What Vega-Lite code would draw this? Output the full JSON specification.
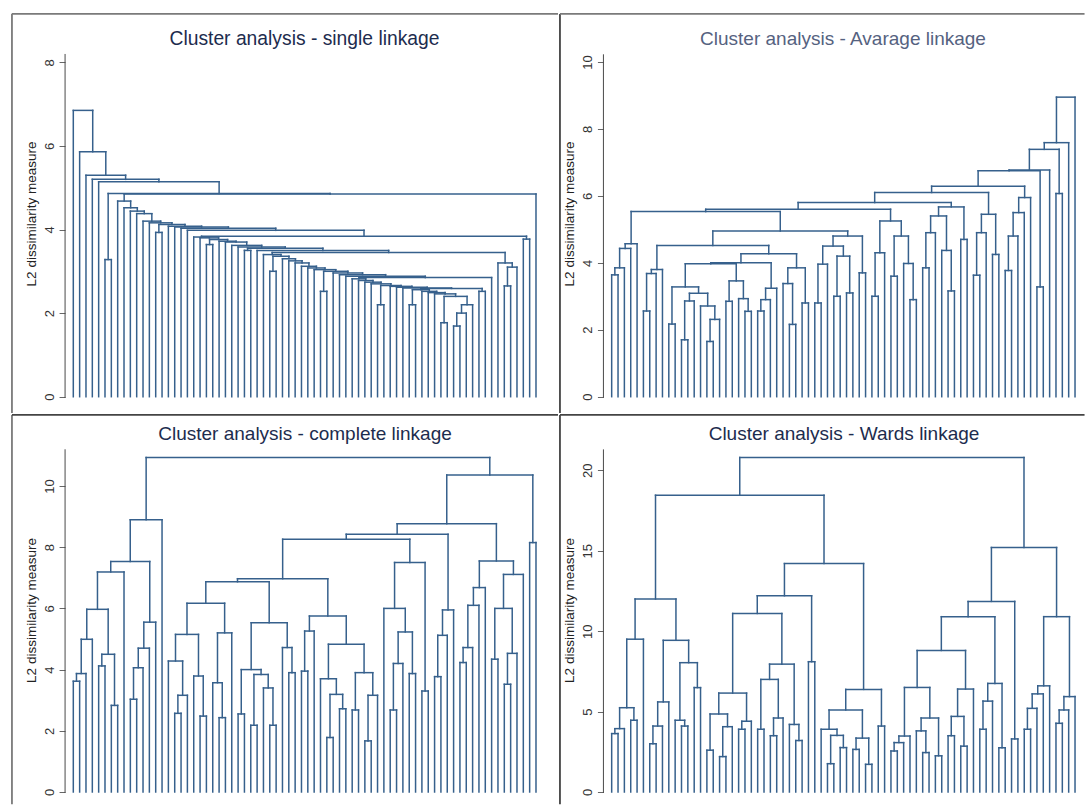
{
  "$schema": "https://vega.github.io/schema/vega-lite/v6.json",
  "padding": {"left": 11, "top": 12, "right": 0, "bottom": 0},
  "background": "white",
  "spacing": 0,
  "datasets": {
    "single": [
      {"a":59,"ya":0,"b":60,"yb":0,"h":1.77},{"a":61,"ya":0,"b":62,"yb":0,"h":1.69},{"a":61.5,"ya":1.69,"b":63,"yb":0,"h":2.0},{"a":62.25,"ya":2.0,"b":64,"yb":0,"h":2.2},{"a":59.5,"ya":1.77,"b":63.125,"yb":2.2,"h":2.4},
      {"a":65,"ya":0,"b":66,"yb":0,"h":2.52},{"a":69,"ya":0,"b":70,"yb":0,"h":2.65},{"a":69.5,"ya":2.65,"b":71,"yb":0,"h":3.1},{"a":68,"ya":0,"b":70.25,"yb":3.1,"h":3.2},{"a":72,"ya":0,"b":73,"yb":0,"h":3.77},
      {"a":54,"ya":0,"b":55,"yb":0,"h":2.2},{"a":49,"ya":0,"b":50,"yb":0,"h":2.2},{"a":40,"ya":0,"b":41,"yb":0,"h":2.52},{"a":32,"ya":0,"b":33,"yb":0,"h":3.0},{"a":28,"ya":0,"b":29,"yb":0,"h":3.5},
      {"a":22,"ya":0,"b":23,"yb":0,"h":3.64},{"a":14,"ya":0,"b":15,"yb":0,"h":3.93},{"a":6,"ya":0,"b":7,"yb":0,"h":3.28},
      {"a":58,"ya":0,"b":61.3125,"yb":2.4,"h":2.46},{"a":57,"ya":0,"b":59.656,"yb":2.46,"h":2.49},{"a":56,"ya":0,"b":58.328,"yb":2.49,"h":2.52},{"a":54.5,"ya":2.2,"b":57.164,"yb":2.52,"h":2.56},
      {"a":55.832,"ya":2.56,"b":65.5,"yb":2.52,"h":2.59},{"a":53,"ya":0,"b":60.666,"yb":2.59,"h":2.6},{"a":52,"ya":0,"b":56.833,"yb":2.6,"h":2.62},{"a":51,"ya":0,"b":54.417,"yb":2.62,"h":2.64},
      {"a":49.5,"ya":2.2,"b":52.708,"yb":2.64,"h":2.66},{"a":48,"ya":0,"b":51.104,"yb":2.66,"h":2.7},{"a":47,"ya":0,"b":49.552,"yb":2.7,"h":2.74},{"a":46,"ya":0,"b":48.276,"yb":2.74,"h":2.78},
      {"a":45,"ya":0,"b":47.138,"yb":2.78,"h":2.82},{"a":46.069,"ya":2.82,"b":67,"yb":0,"h":2.85},{"a":44,"ya":0,"b":56.535,"yb":2.85,"h":2.88},{"a":43,"ya":0,"b":50.267,"yb":2.88,"h":2.92},
      {"a":42,"ya":0,"b":46.634,"yb":2.92,"h":2.96},{"a":40.5,"ya":2.52,"b":44.317,"yb":2.96,"h":3.0},{"a":39,"ya":0,"b":42.408,"yb":3.0,"h":3.04},{"a":38,"ya":0,"b":40.704,"yb":3.04,"h":3.08},
      {"a":37,"ya":0,"b":39.352,"yb":3.08,"h":3.12},{"a":36,"ya":0,"b":38.176,"yb":3.12,"h":3.2},{"a":35,"ya":0,"b":37.088,"yb":3.2,"h":3.25},{"a":34,"ya":0,"b":36.044,"yb":3.25,"h":3.3},
      {"a":32.5,"ya":3.0,"b":35.022,"yb":3.3,"h":3.36},{"a":31,"ya":0,"b":33.761,"yb":3.36,"h":3.4},{"a":32.381,"ya":3.4,"b":69.125,"yb":3.2,"h":3.45},{"a":30,"ya":0,"b":50.753,"yb":3.45,"h":3.5},
      {"a":28.5,"ya":3.5,"b":40.377,"yb":3.5,"h":3.55},{"a":27,"ya":0,"b":34.438,"yb":3.55,"h":3.58},{"a":26,"ya":0,"b":30.719,"yb":3.58,"h":3.62},{"a":25,"ya":0,"b":28.36,"yb":3.62,"h":3.7},
      {"a":24,"ya":0,"b":26.68,"yb":3.7,"h":3.72},{"a":22.5,"ya":3.64,"b":25.34,"yb":3.72,"h":3.76},{"a":21,"ya":0,"b":23.92,"yb":3.76,"h":3.8},{"a":20,"ya":0,"b":22.46,"yb":3.8,"h":3.82},
      {"a":21.23,"ya":3.82,"b":72.5,"yb":3.77,"h":3.84},{"a":19,"ya":0,"b":46.865,"yb":3.84,"h":3.98},{"a":18,"ya":0,"b":32.933,"yb":3.98,"h":4.03},{"a":17,"ya":0,"b":25.466,"yb":4.03,"h":4.06},
      {"a":16,"ya":0,"b":21.233,"yb":4.06,"h":4.08},{"a":14.5,"ya":3.93,"b":18.617,"yb":4.08,"h":4.12},{"a":13,"ya":0,"b":16.558,"yb":4.12,"h":4.16},{"a":12,"ya":0,"b":14.779,"yb":4.16,"h":4.2},
      {"a":11,"ya":0,"b":13.39,"yb":4.2,"h":4.38},{"a":10,"ya":0,"b":12.195,"yb":4.38,"h":4.44},{"a":9,"ya":0,"b":11.097,"yb":4.44,"h":4.52},{"a":8,"ya":0,"b":10.049,"yb":4.52,"h":4.68},
      {"a":9.024,"ya":4.68,"b":74,"yb":0,"h":4.85},{"a":6.5,"ya":3.28,"b":41.512,"yb":4.85,"h":4.86},{"a":5,"ya":0,"b":24.006,"yb":4.86,"h":5.14},{"a":4,"ya":0,"b":14.503,"yb":5.14,"h":5.2},
      {"a":3,"ya":0,"b":9.252,"yb":5.2,"h":5.3},{"a":2,"ya":0,"b":6.126,"yb":5.3,"h":5.86},{"a":1,"ya":0,"b":4.063,"yb":5.86,"h":6.85}
    ],
    "average": [
      {"a":1,"ya":0,"b":2,"yb":0,"h":3.64},{"a":1.5,"ya":3.64,"b":3,"yb":0,"h":3.85},{"a":2.25,"ya":3.85,"b":4,"yb":0,"h":4.43},{"a":3.125,"ya":4.43,"b":5,"yb":0,"h":4.57},
      {"a":6,"ya":0,"b":7,"yb":0,"h":2.56},{"a":6.5,"ya":2.56,"b":8,"yb":0,"h":3.68},{"a":7.25,"ya":3.68,"b":9,"yb":0,"h":3.8},
      {"a":10,"ya":0,"b":11,"yb":0,"h":2.17},{"a":12,"ya":0,"b":13,"yb":0,"h":1.7},{"a":12.5,"ya":1.7,"b":14,"yb":0,"h":2.86},{"a":16,"ya":0,"b":17,"yb":0,"h":1.65},
      {"a":16.5,"ya":1.65,"b":18,"yb":0,"h":2.31},{"a":15,"ya":0,"b":17.25,"yb":2.31,"h":2.71},{"a":13.25,"ya":2.86,"b":16.125,"yb":2.71,"h":3.09},{"a":10.5,"ya":2.17,"b":14.6875,"yb":3.09,"h":3.28},
      {"a":19,"ya":0,"b":20,"yb":0,"h":2.85},{"a":22,"ya":0,"b":23,"yb":0,"h":2.55},{"a":21,"ya":0,"b":22.5,"yb":2.55,"h":2.93},{"a":19.5,"ya":2.85,"b":21.75,"yb":2.93,"h":3.46},
      {"a":12.594,"ya":3.28,"b":20.625,"yb":3.46,"h":3.97},
      {"a":24,"ya":0,"b":25,"yb":0,"h":2.56},{"a":24.5,"ya":2.56,"b":26,"yb":0,"h":2.9},{"a":25.25,"ya":2.9,"b":27,"yb":0,"h":3.24},{"a":16.609,"ya":3.97,"b":26.125,"yb":3.24,"h":4.0},
      {"a":29,"ya":0,"b":30,"yb":0,"h":2.16},{"a":28,"ya":0,"b":29.5,"yb":2.16,"h":3.38},{"a":31,"ya":0,"b":32,"yb":0,"h":2.8},{"a":28.75,"ya":3.38,"b":31.5,"yb":2.8,"h":3.85},
      {"a":21.367,"ya":4.0,"b":30.125,"yb":3.85,"h":4.27},{"a":8.125,"ya":3.8,"b":25.746,"yb":4.27,"h":4.52},
      {"a":33,"ya":0,"b":34,"yb":0,"h":2.8},{"a":33.5,"ya":2.8,"b":35,"yb":0,"h":3.96},{"a":36,"ya":0,"b":37,"yb":0,"h":3.0},{"a":38,"ya":0,"b":39,"yb":0,"h":3.1},
      {"a":36.5,"ya":3.0,"b":38.5,"yb":3.1,"h":4.2},{"a":34.25,"ya":3.96,"b":37.5,"yb":4.2,"h":4.5},{"a":40,"ya":0,"b":41,"yb":0,"h":3.7},{"a":35.875,"ya":4.5,"b":40.5,"yb":3.7,"h":4.8},
      {"a":16.936,"ya":4.52,"b":38.1875,"yb":4.8,"h":4.95},{"a":4.0625,"ya":4.57,"b":27.562,"yb":4.95,"h":5.53},
      {"a":42,"ya":0,"b":43,"yb":0,"h":3.0},{"a":42.5,"ya":3.0,"b":44,"yb":0,"h":4.3},{"a":45,"ya":0,"b":46,"yb":0,"h":3.6},{"a":48,"ya":0,"b":49,"yb":0,"h":2.9},
      {"a":47,"ya":0,"b":48.5,"yb":2.9,"h":3.98},{"a":45.5,"ya":3.6,"b":47.75,"yb":3.98,"h":4.8},{"a":43.25,"ya":4.3,"b":46.625,"yb":4.8,"h":5.25},{"a":15.812,"ya":5.53,"b":44.9375,"yb":5.25,"h":5.6},
      {"a":50,"ya":0,"b":51,"yb":0,"h":3.85},{"a":50.5,"ya":3.85,"b":52,"yb":0,"h":4.9},{"a":54,"ya":0,"b":55,"yb":0,"h":3.16},{"a":53,"ya":0,"b":54.5,"yb":3.16,"h":4.37},
      {"a":51.25,"ya":4.9,"b":53.75,"yb":4.37,"h":5.4},{"a":56,"ya":0,"b":57,"yb":0,"h":4.7},{"a":52.5,"ya":5.4,"b":56.5,"yb":4.7,"h":5.67},{"a":30.375,"ya":5.6,"b":54.5,"yb":5.67,"h":5.8},
      {"a":58,"ya":0,"b":59,"yb":0,"h":3.63},{"a":58.5,"ya":3.63,"b":60,"yb":0,"h":4.9},{"a":61,"ya":0,"b":62,"yb":0,"h":4.25},{"a":59.25,"ya":4.9,"b":61.5,"yb":4.25,"h":5.45},
      {"a":42.4375,"ya":5.8,"b":60.375,"yb":5.45,"h":6.1},
      {"a":63,"ya":0,"b":64,"yb":0,"h":3.77},{"a":63.5,"ya":3.77,"b":65,"yb":0,"h":4.8},{"a":64.25,"ya":4.8,"b":66,"yb":0,"h":5.5},{"a":65.125,"ya":5.5,"b":67,"yb":0,"h":5.95},
      {"a":51.406,"ya":6.1,"b":66.0625,"yb":5.95,"h":6.29},{"a":68,"ya":0,"b":69,"yb":0,"h":3.28},{"a":58.734,"ya":6.29,"b":68.5,"yb":3.28,"h":6.75},{"a":63.617,"ya":6.75,"b":70,"yb":0,"h":6.77},
      {"a":71,"ya":0,"b":72,"yb":0,"h":6.07},{"a":66.809,"ya":6.77,"b":71.5,"yb":6.07,"h":7.39},{"a":69.154,"ya":7.39,"b":73,"yb":0,"h":7.59},{"a":71.077,"ya":7.59,"b":74,"yb":0,"h":8.95}
    ],
    "complete": [
      {"a":1,"ya":0,"b":2,"yb":0,"h":3.62},{"a":1.5,"ya":3.62,"b":3,"yb":0,"h":3.87},{"a":2.25,"ya":3.87,"b":4,"yb":0,"h":4.99},{"a":5,"ya":0,"b":6,"yb":0,"h":4.12},
      {"a":7,"ya":0,"b":8,"yb":0,"h":2.83},{"a":5.5,"ya":4.12,"b":7.5,"yb":2.83,"h":4.5},{"a":3.125,"ya":4.99,"b":6.5,"yb":4.5,"h":5.97},{"a":4.8125,"ya":5.97,"b":9,"yb":0,"h":7.19},
      {"a":10,"ya":0,"b":11,"yb":0,"h":3.03},{"a":10.5,"ya":3.03,"b":12,"yb":0,"h":4.06},{"a":11.25,"ya":4.06,"b":13,"yb":0,"h":4.7},{"a":12.125,"ya":4.7,"b":14,"yb":0,"h":5.55},
      {"a":6.906,"ya":7.19,"b":13.0625,"yb":5.55,"h":7.53},{"a":9.984,"ya":7.53,"b":15,"yb":0,"h":8.9},
      {"a":17,"ya":0,"b":18,"yb":0,"h":2.57},{"a":17.5,"ya":2.57,"b":19,"yb":0,"h":3.16},{"a":16,"ya":0,"b":18.25,"yb":3.16,"h":4.28},{"a":21,"ya":0,"b":22,"yb":0,"h":2.48},
      {"a":20,"ya":0,"b":21.5,"yb":2.48,"h":3.79},{"a":17.125,"ya":4.28,"b":20.75,"yb":3.79,"h":5.15},{"a":24,"ya":0,"b":25,"yb":0,"h":2.43},{"a":23,"ya":0,"b":24.5,"yb":2.43,"h":3.57},
      {"a":23.75,"ya":3.57,"b":26,"yb":0,"h":5.2},{"a":18.9375,"ya":5.15,"b":24.875,"yb":5.2,"h":6.17},
      {"a":27,"ya":0,"b":28,"yb":0,"h":2.55},{"a":29,"ya":0,"b":30,"yb":0,"h":2.18},{"a":32,"ya":0,"b":33,"yb":0,"h":2.18},{"a":31,"ya":0,"b":32.5,"yb":2.18,"h":3.4},
      {"a":29.5,"ya":2.18,"b":31.75,"yb":3.4,"h":3.84},{"a":27.5,"ya":2.55,"b":30.625,"yb":3.84,"h":4.0},{"a":35,"ya":0,"b":36,"yb":0,"h":3.9},{"a":34,"ya":0,"b":35.5,"yb":3.9,"h":4.72},
      {"a":29.0625,"ya":4.0,"b":34.75,"yb":4.72,"h":5.53},{"a":21.906,"ya":6.17,"b":31.906,"yb":5.53,"h":6.87},
      {"a":37,"ya":0,"b":38,"yb":0,"h":3.95},{"a":37.5,"ya":3.95,"b":39,"yb":0,"h":5.26},{"a":41,"ya":0,"b":42,"yb":0,"h":1.78},{"a":43,"ya":0,"b":44,"yb":0,"h":2.72},
      {"a":41.5,"ya":1.78,"b":43.5,"yb":2.72,"h":3.19},{"a":40,"ya":0,"b":42.5,"yb":3.19,"h":3.7},{"a":45,"ya":0,"b":46,"yb":0,"h":2.68},{"a":47,"ya":0,"b":48,"yb":0,"h":1.67},
      {"a":47.5,"ya":1.67,"b":49,"yb":0,"h":3.16},{"a":45.5,"ya":2.68,"b":48.25,"yb":3.16,"h":3.9},{"a":41.25,"ya":3.7,"b":46.875,"yb":3.9,"h":4.83},{"a":38.25,"ya":5.26,"b":44.0625,"yb":4.83,"h":5.75},
      {"a":26.906,"ya":6.87,"b":41.156,"yb":5.75,"h":6.97},
      {"a":51,"ya":0,"b":52,"yb":0,"h":2.68},{"a":51.5,"ya":2.68,"b":53,"yb":0,"h":4.2},{"a":54,"ya":0,"b":55,"yb":0,"h":3.87},{"a":52.25,"ya":4.2,"b":54.5,"yb":3.87,"h":5.23},
      {"a":50,"ya":0,"b":53.375,"yb":5.23,"h":6.0},{"a":56,"ya":0,"b":57,"yb":0,"h":3.3},{"a":51.6875,"ya":6.0,"b":56.5,"yb":3.3,"h":7.5},{"a":34.031,"ya":6.97,"b":54.094,"yb":7.5,"h":8.26},
      {"a":58,"ya":0,"b":59,"yb":0,"h":3.77},{"a":58.5,"ya":3.77,"b":60,"yb":0,"h":5.12},{"a":59.25,"ya":5.12,"b":61,"yb":0,"h":5.95},{"a":44.0625,"ya":8.26,"b":60.125,"yb":5.95,"h":8.42},
      {"a":62,"ya":0,"b":63,"yb":0,"h":4.23},{"a":62.5,"ya":4.23,"b":64,"yb":0,"h":4.72},{"a":63.25,"ya":4.72,"b":65,"yb":0,"h":6.1},{"a":64.125,"ya":6.1,"b":66,"yb":0,"h":6.68},
      {"a":67,"ya":0,"b":68,"yb":0,"h":4.34},{"a":69,"ya":0,"b":70,"yb":0,"h":3.52},{"a":69.5,"ya":3.52,"b":71,"yb":0,"h":4.53},{"a":67.5,"ya":4.34,"b":70.25,"yb":4.53,"h":6.0},
      {"a":68.875,"ya":6.0,"b":72,"yb":0,"h":7.11},{"a":65.0625,"ya":6.68,"b":70.4375,"yb":7.11,"h":7.55},{"a":52.094,"ya":8.42,"b":67.75,"yb":7.55,"h":8.77},{"a":73,"ya":0,"b":74,"yb":0,"h":8.15},
      {"a":59.922,"ya":8.77,"b":73.5,"yb":8.15,"h":10.36},{"a":12.492,"ya":8.9,"b":66.711,"yb":10.36,"h":10.93}
    ],
    "ward": [
      {"a":1,"ya":0,"b":2,"yb":0,"h":3.63},{"a":1.5,"ya":3.63,"b":3,"yb":0,"h":3.94},{"a":4,"ya":0,"b":5,"yb":0,"h":4.46},{"a":2.25,"ya":3.94,"b":4.5,"yb":4.46,"h":5.24},
      {"a":3.375,"ya":5.24,"b":6,"yb":0,"h":9.5},{"a":7,"ya":0,"b":8,"yb":0,"h":3.0},{"a":7.5,"ya":3.0,"b":9,"yb":0,"h":4.1},{"a":8.25,"ya":4.1,"b":10,"yb":0,"h":5.6},
      {"a":12,"ya":0,"b":13,"yb":0,"h":4.1},{"a":11,"ya":0,"b":12.5,"yb":4.1,"h":4.46},{"a":14,"ya":0,"b":15,"yb":0,"h":6.49},{"a":11.75,"ya":4.46,"b":14.5,"yb":6.49,"h":8.04},
      {"a":9.125,"ya":5.6,"b":13.125,"yb":8.04,"h":9.43},{"a":4.6875,"ya":9.5,"b":11.125,"yb":9.43,"h":12.0},
      {"a":16,"ya":0,"b":17,"yb":0,"h":2.6},{"a":18,"ya":0,"b":19,"yb":0,"h":2.2},{"a":18.5,"ya":2.2,"b":20,"yb":0,"h":4.06},{"a":16.5,"ya":2.6,"b":19.25,"yb":4.06,"h":4.85},
      {"a":21,"ya":0,"b":22,"yb":0,"h":3.9},{"a":21.5,"ya":3.9,"b":23,"yb":0,"h":4.4},{"a":17.875,"ya":4.85,"b":22.25,"yb":4.4,"h":6.15},{"a":24,"ya":0,"b":25,"yb":0,"h":3.9},
      {"a":26,"ya":0,"b":27,"yb":0,"h":3.5},{"a":26.5,"ya":3.5,"b":28,"yb":0,"h":4.6},{"a":24.5,"ya":3.9,"b":27.25,"yb":4.6,"h":7.0},{"a":30,"ya":0,"b":31,"yb":0,"h":3.2},
      {"a":29,"ya":0,"b":30.5,"yb":3.2,"h":4.2},{"a":25.875,"ya":7.0,"b":29.75,"yb":4.2,"h":7.95},{"a":20.0625,"ya":6.15,"b":27.8125,"yb":7.95,"h":11.1},{"a":32,"ya":0,"b":33,"yb":0,"h":8.1},
      {"a":23.9375,"ya":11.1,"b":32.5,"yb":8.1,"h":12.2},
      {"a":35,"ya":0,"b":36,"yb":0,"h":1.76},{"a":37,"ya":0,"b":38,"yb":0,"h":2.76},{"a":35.5,"ya":1.76,"b":37.5,"yb":2.76,"h":3.52},{"a":34,"ya":0,"b":36.5,"yb":3.52,"h":3.9},
      {"a":39,"ya":0,"b":40,"yb":0,"h":2.65},{"a":41,"ya":0,"b":42,"yb":0,"h":1.72},{"a":39.5,"ya":2.65,"b":41.5,"yb":1.72,"h":3.35},{"a":35.25,"ya":3.9,"b":40.5,"yb":3.35,"h":5.1},
      {"a":43,"ya":0,"b":44,"yb":0,"h":4.1},{"a":37.875,"ya":5.1,"b":43.5,"yb":4.1,"h":6.38},{"a":28.219,"ya":12.2,"b":40.6875,"yb":6.38,"h":14.2},{"a":7.906,"ya":12.0,"b":34.453,"yb":14.2,"h":18.45},
      {"a":45,"ya":0,"b":46,"yb":0,"h":2.55},{"a":45.5,"ya":2.55,"b":47,"yb":0,"h":3.07},{"a":46.25,"ya":3.07,"b":48,"yb":0,"h":3.48},{"a":50,"ya":0,"b":51,"yb":0,"h":2.45},
      {"a":49,"ya":0,"b":50.5,"yb":2.45,"h":3.8},{"a":52,"ya":0,"b":53,"yb":0,"h":2.25},{"a":49.75,"ya":3.8,"b":52.5,"yb":2.25,"h":4.6},{"a":47.125,"ya":3.48,"b":51.125,"yb":4.6,"h":6.5},
      {"a":54,"ya":0,"b":55,"yb":0,"h":3.5},{"a":56,"ya":0,"b":57,"yb":0,"h":2.85},{"a":54.5,"ya":3.5,"b":56.5,"yb":2.85,"h":4.7},{"a":55.5,"ya":4.7,"b":58,"yb":0,"h":6.4},
      {"a":49.125,"ya":6.5,"b":56.75,"yb":6.4,"h":8.8},{"a":59,"ya":0,"b":60,"yb":0,"h":3.9},{"a":59.5,"ya":3.9,"b":61,"yb":0,"h":5.65},{"a":62,"ya":0,"b":63,"yb":0,"h":2.75},
      {"a":60.25,"ya":5.65,"b":62.5,"yb":2.75,"h":6.75},{"a":52.9375,"ya":8.8,"b":61.375,"yb":6.75,"h":10.9},{"a":64,"ya":0,"b":65,"yb":0,"h":3.3},{"a":57.156,"ya":10.9,"b":64.5,"yb":3.3,"h":11.85},
      {"a":66,"ya":0,"b":67,"yb":0,"h":3.9},{"a":66.5,"ya":3.9,"b":68,"yb":0,"h":5.2},{"a":67.25,"ya":5.2,"b":69,"yb":0,"h":6.1},{"a":68.125,"ya":6.1,"b":70,"yb":0,"h":6.6},
      {"a":71,"ya":0,"b":72,"yb":0,"h":4.27},{"a":71.5,"ya":4.27,"b":73,"yb":0,"h":5.1},{"a":72.25,"ya":5.1,"b":74,"yb":0,"h":5.93},{"a":69.0625,"ya":6.6,"b":73.125,"yb":5.93,"h":10.9},
      {"a":60.828,"ya":11.85,"b":71.094,"yb":10.9,"h":15.2},{"a":21.18,"ya":18.45,"b":65.961,"yb":15.2,"h":20.8}
    ]
  },
  "vconcat": [
    {
      "spacing": 0,
      "hconcat": [
        {
          "width": 548, "height": 401,
          "title": {"text": "Cluster analysis - single linkage", "dx": 19.5, "offset": -36, "fontSize": 19.3},
          "data": {"name": "single"},
          "layer": [
            {"mark": "rule", "encoding": {
              "x": {"field": "a", "type": "quantitative", "scale": {"domain": [-8.83, 77.63], "nice": false, "zero": false}, "axis": null},
              "y": {"field": "ya", "type": "quantitative", "scale": {"domain": [-0.414, 9.18], "nice": false, "zero": false}, "title": "L2 dissimilarity measure", "axis": {"values": [0, 2, 4, 6, 8], "offset": -54.06}},
              "y2": {"field": "h"}}},
            {"mark": "rule", "encoding": {
              "x": {"field": "b", "type": "quantitative", "scale": {"domain": [-8.83, 77.63], "nice": false, "zero": false}, "axis": null},
              "y": {"field": "yb", "type": "quantitative", "scale": {"domain": [-0.414, 9.18], "nice": false, "zero": false}, "title": "L2 dissimilarity measure", "axis": {"values": [0, 2, 4, 6, 8], "offset": -54.06}},
              "y2": {"field": "h"}}},
            {"mark": "rule", "encoding": {
              "x": {"field": "a", "type": "quantitative", "scale": {"domain": [-8.83, 77.63], "nice": false, "zero": false}, "axis": null},
              "x2": {"field": "b"},
              "y": {"field": "h", "type": "quantitative", "scale": {"domain": [-0.414, 9.18], "nice": false, "zero": false}, "title": "L2 dissimilarity measure", "axis": {"values": [0, 2, 4, 6, 8], "offset": -54.06}}}},
            {"data": {"values": [{}]}, "mark": {"type": "rule", "color": "#4a4a4a", "strokeWidth": 1, "strokeCap": "butt"}, "encoding": {
              "x": {"datum": -0.3, "type": "quantitative", "scale": {"domain": [-8.83, 77.63], "nice": false, "zero": false}, "axis": null},
              "y": {"datum": -0.03, "type": "quantitative", "scale": {"domain": [-0.414, 9.18], "nice": false, "zero": false}, "title": "L2 dissimilarity measure", "axis": {"values": [0, 2, 4, 6, 8], "offset": -54.06}},
              "y2": {"datum": 8.2}}},
            {"data": {"values": [{}]}, "mark": {"type": "rule", "color": "#7a7a7a", "strokeWidth": 1.8, "strokeCap": "butt"}, "encoding": {
              "x": {"datum": -8.68, "type": "quantitative", "scale": {"domain": [-8.83, 77.63], "nice": false, "zero": false}, "axis": null},
              "y": {"datum": -0.39, "type": "quantitative", "scale": {"domain": [-0.414, 9.18], "nice": false, "zero": false}, "title": "L2 dissimilarity measure", "axis": {"values": [0, 2, 4, 6, 8], "offset": -54.06}},
              "y2": {"datum": 9.16}}},
            {"data": {"values": [{}]}, "mark": {"type": "rule", "color": "#7a7a7a", "strokeWidth": 1.8, "strokeCap": "butt"}, "encoding": {
              "x": {"datum": -8.68, "type": "quantitative", "scale": {"domain": [-8.83, 77.63], "nice": false, "zero": false}, "axis": null},
              "x2": {"datum": 77.47},
              "y": {"datum": 9.157, "type": "quantitative", "scale": {"domain": [-0.414, 9.18], "nice": false, "zero": false}, "title": "L2 dissimilarity measure", "axis": {"values": [0, 2, 4, 6, 8], "offset": -54.06}}}}
          ]
        },
        {
          "width": 527, "height": 401,
          "title": {"text": "Cluster analysis - Avarage linkage", "dx": 20.5, "offset": -36, "color": "#55627f"},
          "data": {"name": "average"},
          "layer": [
            {"mark": "rule", "encoding": {
              "x": {"field": "a", "type": "quantitative", "scale": {"domain": [-7.3, 75.73], "nice": false, "zero": false}, "axis": null},
              "y": {"field": "ya", "type": "quantitative", "scale": {"domain": [-0.517, 11.464], "nice": false, "zero": false}, "title": "L2 dissimilarity measure", "axis": {"values": [0, 2, 4, 6, 8, 10], "offset": -44.43}},
              "y2": {"field": "h"}}},
            {"mark": "rule", "encoding": {
              "x": {"field": "b", "type": "quantitative", "scale": {"domain": [-7.3, 75.73], "nice": false, "zero": false}, "axis": null},
              "y": {"field": "yb", "type": "quantitative", "scale": {"domain": [-0.517, 11.464], "nice": false, "zero": false}, "title": "L2 dissimilarity measure", "axis": {"values": [0, 2, 4, 6, 8, 10], "offset": -44.43}},
              "y2": {"field": "h"}}},
            {"mark": "rule", "encoding": {
              "x": {"field": "a", "type": "quantitative", "scale": {"domain": [-7.3, 75.73], "nice": false, "zero": false}, "axis": null},
              "x2": {"field": "b"},
              "y": {"field": "h", "type": "quantitative", "scale": {"domain": [-0.517, 11.464], "nice": false, "zero": false}, "title": "L2 dissimilarity measure", "axis": {"values": [0, 2, 4, 6, 8, 10], "offset": -44.43}}}},
            {"data": {"values": [{}]}, "mark": {"type": "rule", "color": "#4a4a4a", "strokeWidth": 1, "strokeCap": "butt"}, "encoding": {
              "x": {"datum": -0.3, "type": "quantitative", "scale": {"domain": [-7.3, 75.73], "nice": false, "zero": false}, "axis": null},
              "y": {"datum": -0.03, "type": "quantitative", "scale": {"domain": [-0.517, 11.464], "nice": false, "zero": false}, "title": "L2 dissimilarity measure", "axis": {"values": [0, 2, 4, 6, 8, 10], "offset": -44.43}},
              "y2": {"datum": 10.23}}},
            {"data": {"values": [{}]}, "mark": {"type": "rule", "color": "#444444", "strokeWidth": 1.8, "strokeCap": "butt"}, "encoding": {
              "x": {"datum": -7.15, "type": "quantitative", "scale": {"domain": [-7.3, 75.73], "nice": false, "zero": false}, "axis": null},
              "y": {"datum": -0.487, "type": "quantitative", "scale": {"domain": [-0.517, 11.464], "nice": false, "zero": false}, "title": "L2 dissimilarity measure", "axis": {"values": [0, 2, 4, 6, 8, 10], "offset": -44.43}},
              "y2": {"datum": 11.436}}},
            {"data": {"values": [{}]}, "mark": {"type": "rule", "color": "#7a7a7a", "strokeWidth": 1.8, "strokeCap": "butt"}, "encoding": {
              "x": {"datum": -7.15, "type": "quantitative", "scale": {"domain": [-7.3, 75.73], "nice": false, "zero": false}, "axis": null},
              "x2": {"datum": 75.5},
              "y": {"datum": 11.436, "type": "quantitative", "scale": {"domain": [-0.517, 11.464], "nice": false, "zero": false}, "title": "L2 dissimilarity measure", "axis": {"values": [0, 2, 4, 6, 8, 10], "offset": -44.43}}}}
          ]
        }
      ]
    },
    {
      "spacing": 0,
      "hconcat": [
        {
          "width": 548, "height": 392,
          "title": {"text": "Cluster analysis - complete linkage", "dx": 20, "offset": -30},
          "data": {"name": "complete"},
          "layer": [
            {"mark": "rule", "encoding": {
              "x": {"field": "a", "type": "quantitative", "scale": {"domain": [-8.83, 77.63], "nice": false, "zero": false}, "axis": null},
              "y": {"field": "ya", "type": "quantitative", "scale": {"domain": [-0.458, 12.353], "nice": false, "zero": false}, "title": "L2 dissimilarity measure", "axis": {"values": [0, 2, 4, 6, 8, 10], "offset": -54.06}},
              "y2": {"field": "h"}}},
            {"mark": "rule", "encoding": {
              "x": {"field": "b", "type": "quantitative", "scale": {"domain": [-8.83, 77.63], "nice": false, "zero": false}, "axis": null},
              "y": {"field": "yb", "type": "quantitative", "scale": {"domain": [-0.458, 12.353], "nice": false, "zero": false}, "title": "L2 dissimilarity measure", "axis": {"values": [0, 2, 4, 6, 8, 10], "offset": -54.06}},
              "y2": {"field": "h"}}},
            {"mark": "rule", "encoding": {
              "x": {"field": "a", "type": "quantitative", "scale": {"domain": [-8.83, 77.63], "nice": false, "zero": false}, "axis": null},
              "x2": {"field": "b"},
              "y": {"field": "h", "type": "quantitative", "scale": {"domain": [-0.458, 12.353], "nice": false, "zero": false}, "title": "L2 dissimilarity measure", "axis": {"values": [0, 2, 4, 6, 8, 10], "offset": -54.06}}}},
            {"data": {"values": [{}]}, "mark": {"type": "rule", "color": "#4a4a4a", "strokeWidth": 1, "strokeCap": "butt"}, "encoding": {
              "x": {"datum": -0.3, "type": "quantitative", "scale": {"domain": [-8.83, 77.63], "nice": false, "zero": false}, "axis": null},
              "y": {"datum": -0.03, "type": "quantitative", "scale": {"domain": [-0.458, 12.353], "nice": false, "zero": false}, "title": "L2 dissimilarity measure", "axis": {"values": [0, 2, 4, 6, 8, 10], "offset": -54.06}},
              "y2": {"datum": 11.2}}},
            {"data": {"values": [{}]}, "mark": {"type": "rule", "color": "#7a7a7a", "strokeWidth": 1.8, "strokeCap": "butt"}, "encoding": {
              "x": {"datum": -8.68, "type": "quantitative", "scale": {"domain": [-8.83, 77.63], "nice": false, "zero": false}, "axis": null},
              "y": {"datum": -0.4, "type": "quantitative", "scale": {"domain": [-0.458, 12.353], "nice": false, "zero": false}, "title": "L2 dissimilarity measure", "axis": {"values": [0, 2, 4, 6, 8, 10], "offset": -54.06}},
              "y2": {"datum": 12.322}}},
            {"data": {"values": [{}]}, "mark": {"type": "rule", "color": "#444444", "strokeWidth": 1.8, "strokeCap": "butt"}, "encoding": {
              "x": {"datum": -8.68, "type": "quantitative", "scale": {"domain": [-8.83, 77.63], "nice": false, "zero": false}, "axis": null},
              "x2": {"datum": 77.47},
              "y": {"datum": 12.322, "type": "quantitative", "scale": {"domain": [-0.458, 12.353], "nice": false, "zero": false}, "title": "L2 dissimilarity measure", "axis": {"values": [0, 2, 4, 6, 8, 10], "offset": -54.06}}}}
          ]
        },
        {
          "width": 527, "height": 392,
          "title": {"text": "Cluster analysis - Wards linkage", "dx": 21.5, "offset": -30},
          "data": {"name": "ward"},
          "layer": [
            {"mark": "rule", "encoding": {
              "x": {"field": "a", "type": "quantitative", "scale": {"domain": [-7.3, 75.73], "nice": false, "zero": false}, "axis": null},
              "y": {"field": "ya", "type": "quantitative", "scale": {"domain": [-0.87, 23.5], "nice": false, "zero": false}, "title": "L2 dissimilarity measure", "axis": {"values": [0, 5, 10, 15, 20], "offset": -44.43}},
              "y2": {"field": "h"}}},
            {"mark": "rule", "encoding": {
              "x": {"field": "b", "type": "quantitative", "scale": {"domain": [-7.3, 75.73], "nice": false, "zero": false}, "axis": null},
              "y": {"field": "yb", "type": "quantitative", "scale": {"domain": [-0.87, 23.5], "nice": false, "zero": false}, "title": "L2 dissimilarity measure", "axis": {"values": [0, 5, 10, 15, 20], "offset": -44.43}},
              "y2": {"field": "h"}}},
            {"mark": "rule", "encoding": {
              "x": {"field": "a", "type": "quantitative", "scale": {"domain": [-7.3, 75.73], "nice": false, "zero": false}, "axis": null},
              "x2": {"field": "b"},
              "y": {"field": "h", "type": "quantitative", "scale": {"domain": [-0.87, 23.5], "nice": false, "zero": false}, "title": "L2 dissimilarity measure", "axis": {"values": [0, 5, 10, 15, 20], "offset": -44.43}}}},
            {"data": {"values": [{}]}, "mark": {"type": "rule", "color": "#4a4a4a", "strokeWidth": 1, "strokeCap": "butt"}, "encoding": {
              "x": {"datum": -0.3, "type": "quantitative", "scale": {"domain": [-7.3, 75.73], "nice": false, "zero": false}, "axis": null},
              "y": {"datum": -0.06, "type": "quantitative", "scale": {"domain": [-0.87, 23.5], "nice": false, "zero": false}, "title": "L2 dissimilarity measure", "axis": {"values": [0, 5, 10, 15, 20], "offset": -44.43}},
              "y2": {"datum": 21.3}}},
            {"data": {"values": [{}]}, "mark": {"type": "rule", "color": "#444444", "strokeWidth": 1.8, "strokeCap": "butt"}, "encoding": {
              "x": {"datum": -7.15, "type": "quantitative", "scale": {"domain": [-7.3, 75.73], "nice": false, "zero": false}, "axis": null},
              "y": {"datum": -0.76, "type": "quantitative", "scale": {"domain": [-0.87, 23.5], "nice": false, "zero": false}, "title": "L2 dissimilarity measure", "axis": {"values": [0, 5, 10, 15, 20], "offset": -44.43}},
              "y2": {"datum": 23.44}}},
            {"data": {"values": [{}]}, "mark": {"type": "rule", "color": "#444444", "strokeWidth": 1.8, "strokeCap": "butt"}, "encoding": {
              "x": {"datum": -7.15, "type": "quantitative", "scale": {"domain": [-7.3, 75.73], "nice": false, "zero": false}, "axis": null},
              "x2": {"datum": 75.5},
              "y": {"datum": 23.44, "type": "quantitative", "scale": {"domain": [-0.87, 23.5], "nice": false, "zero": false}, "title": "L2 dissimilarity measure", "axis": {"values": [0, 5, 10, 15, 20], "offset": -44.43}}}}
          ]
        }
      ]
    }
  ],
  "config": {
    "view": {"stroke": null},
    "font": "Liberation Sans",
    "rule": {"color": "#36608c", "strokeWidth": 1.5, "strokeCap": "square"},
    "title": {"anchor": "middle", "frame": "group", "offset": -35, "fontSize": 19, "fontWeight": "normal", "color": "#1d2c4e", "font": "Liberation Sans"},
    "axisY": {
      "domain": false, "grid": false, "ticks": true, "tickSize": 6, "tickColor": "#666666", "tickWidth": 1,
      "labelAngle": -90, "labelFont": "Liberation Sans", "labelFontSize": 13, "labelColor": "#333333", "labelPadding": 3,
      "titleFont": "Liberation Sans", "titleFontSize": 13.5, "titleFontWeight": "normal", "titleColor": "#222222", "titlePadding": 5
    }
  }
}
